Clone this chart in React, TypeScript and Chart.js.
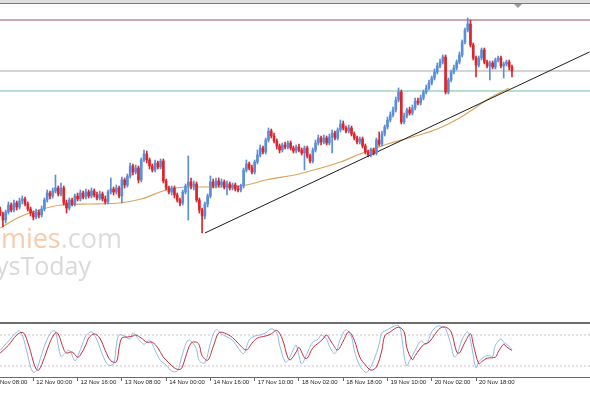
import { useEffect, useRef } from "react";
import { Chart, registerables } from "chart.js";

Chart.register(...registerables);

// ---- price data (USD/JPY, H1) ----
const opens = [
  117.30,117.26,117.20,117.28,117.35,117.30,117.37,117.33,117.39,117.41,
  117.36,117.31,117.27,117.23,117.28,117.25,117.31,117.40,117.47,117.44,
  117.49,117.52,117.46,117.52,117.37,117.32,117.40,117.36,117.44,117.41,
  117.47,117.43,117.48,117.44,117.49,117.45,117.42,117.46,117.41,117.38,
  117.48,117.51,117.48,117.52,117.44,117.60,117.55,117.64,117.74,117.68,
  117.72,117.60,117.80,117.86,117.80,117.74,117.70,117.77,117.73,117.79,
  117.59,117.52,117.48,117.52,117.45,117.40,117.37,117.48,117.54,117.58,
  117.54,117.56,117.40,117.30,117.24,117.36,117.44,117.58,117.54,117.59,
  117.55,117.58,117.53,117.56,117.52,117.55,117.51,117.50,117.54,117.70,
  117.76,117.72,117.68,117.78,117.85,117.92,117.88,118.00,118.09,118.04,
  117.99,117.94,117.90,117.95,117.93,117.97,117.92,117.89,117.93,117.90,
  117.87,117.92,117.84,117.79,117.90,117.97,118.02,117.98,118.02,117.97,
  118.03,118.07,118.02,118.10,118.16,118.12,118.09,118.12,118.06,118.02,
  117.98,118.01,117.94,117.88,117.85,117.90,117.87,118.00,117.96,118.06,
  118.13,118.20,118.25,118.30,118.40,118.48,118.18,118.24,118.30,118.27,
  118.32,118.39,118.37,118.42,118.48,118.52,118.57,118.62,118.68,118.74,
  118.78,118.83,118.48,118.60,118.68,118.72,118.78,118.85,118.98,119.10,
  119.16,118.95,118.82,118.75,118.82,118.90,118.78,118.74,118.77,118.73,
  118.80,118.82,118.74,118.76,118.78,118.73,
];
const highs = [
  117.33,117.28,117.30,117.38,117.37,117.40,117.39,117.42,117.44,117.43,
  117.38,117.33,117.29,117.31,117.30,117.34,117.42,117.50,117.49,117.52,
  117.65,117.54,117.57,117.54,117.40,117.42,117.42,117.46,117.47,117.50,
  117.49,117.51,117.50,117.52,117.51,117.48,117.49,117.48,117.44,117.50,
  117.62,117.53,117.55,117.54,117.63,117.62,117.66,117.77,117.76,117.75,
  117.74,117.82,117.90,117.89,117.82,117.76,117.80,117.79,117.81,117.81,
  117.61,117.54,117.54,117.54,117.47,117.42,117.50,117.56,117.84,117.62,
  117.59,117.58,117.42,117.32,117.38,117.46,117.64,117.61,117.62,117.62,
  117.61,117.60,117.59,117.58,117.57,117.57,117.54,117.56,117.72,117.80,
  117.78,117.75,117.80,117.90,117.95,117.94,118.02,118.12,118.11,118.07,
  118.01,117.96,117.97,117.98,117.99,117.99,117.94,117.95,117.96,117.92,
  117.94,117.94,117.86,117.92,118.00,118.05,118.04,118.05,118.04,118.06,
  118.10,118.09,118.12,118.20,118.19,118.14,118.15,118.14,118.08,118.04,
  118.03,118.03,117.96,117.90,117.92,117.92,118.02,118.08,118.09,118.15,
  118.23,118.28,118.33,118.43,118.52,118.50,118.27,118.32,118.33,118.35,
  118.42,118.42,118.45,118.50,118.55,118.60,118.64,118.71,118.77,118.81,
  118.85,118.85,118.62,118.70,118.75,118.80,118.88,119.00,119.12,119.22,
  119.20,118.97,118.84,118.84,118.92,118.92,118.80,118.79,118.79,118.82,
  118.84,118.84,118.78,118.80,118.80,118.75,
];
const lows = [
  117.24,117.13,117.17,117.26,117.28,117.28,117.30,117.31,117.36,117.34,
  117.29,117.24,117.20,117.21,117.22,117.23,117.29,117.38,117.41,117.42,
  117.47,117.44,117.44,117.35,117.27,117.30,117.34,117.34,117.39,117.39,
  117.41,117.41,117.42,117.42,117.43,117.40,117.40,117.39,117.36,117.36,
  117.46,117.45,117.46,117.42,117.37,117.52,117.53,117.62,117.65,117.66,
  117.57,117.58,117.78,117.77,117.71,117.68,117.68,117.71,117.71,117.57,
  117.50,117.46,117.45,117.42,117.38,117.34,117.35,117.46,117.20,117.51,
  117.50,117.38,117.27,117.07,117.21,117.33,117.42,117.52,117.52,117.53,
  117.53,117.51,117.45,117.50,117.50,117.49,117.48,117.48,117.52,117.68,
  117.70,117.66,117.66,117.76,117.83,117.86,117.86,117.98,118.02,117.97,
  117.91,117.87,117.88,117.91,117.91,117.90,117.87,117.87,117.88,117.85,
  117.70,117.82,117.77,117.77,117.88,117.95,117.95,117.96,117.95,117.95,
  117.87,118.00,118.00,118.08,118.10,118.07,118.07,118.04,118.00,117.96,
  117.96,117.92,117.86,117.83,117.83,117.85,117.85,117.94,117.94,118.04,
  118.11,118.18,118.23,118.28,118.38,118.16,118.16,118.22,118.25,118.25,
  118.30,118.35,118.35,118.40,118.46,118.50,118.55,118.60,118.66,118.72,
  118.76,118.46,118.46,118.58,118.66,118.70,118.76,118.83,118.96,119.08,
  118.93,118.80,118.63,118.73,118.80,118.76,118.72,118.60,118.71,118.71,
  118.78,118.72,118.62,118.74,118.70,118.63,
];
const closes = [
  117.26,117.20,117.28,117.35,117.30,117.37,117.33,117.39,117.41,117.36,
  117.31,117.27,117.23,117.28,117.25,117.31,117.40,117.47,117.44,117.49,
  117.52,117.46,117.52,117.37,117.32,117.40,117.36,117.44,117.41,117.47,
  117.43,117.48,117.44,117.49,117.45,117.42,117.46,117.41,117.38,117.48,
  117.51,117.48,117.52,117.44,117.60,117.55,117.64,117.74,117.68,117.72,
  117.60,117.80,117.86,117.80,117.74,117.70,117.77,117.73,117.79,117.59,
  117.52,117.48,117.52,117.45,117.40,117.37,117.48,117.54,117.58,117.54,
  117.56,117.40,117.30,117.24,117.36,117.44,117.58,117.54,117.59,117.55,
  117.58,117.53,117.56,117.52,117.55,117.51,117.50,117.54,117.70,117.76,
  117.72,117.68,117.78,117.85,117.92,117.88,118.00,118.09,118.04,117.99,
  117.94,117.90,117.95,117.93,117.97,117.92,117.89,117.93,117.90,117.87,
  117.92,117.84,117.79,117.90,117.97,118.02,117.98,118.02,117.97,118.03,
  118.07,118.02,118.10,118.16,118.12,118.09,118.12,118.06,118.02,117.98,
  118.01,117.94,117.88,117.85,117.90,117.87,118.00,117.96,118.06,118.13,
  118.20,118.25,118.30,118.40,118.48,118.18,118.24,118.30,118.27,118.32,
  118.39,118.37,118.42,118.48,118.52,118.57,118.62,118.68,118.74,118.78,
  118.83,118.48,118.60,118.68,118.72,118.78,118.85,118.98,119.10,119.16,
  118.95,118.82,118.75,118.82,118.90,118.78,118.74,118.77,118.73,118.80,
  118.82,118.74,118.76,118.78,118.73,118.69,
];

// moving average (read at selected bars)
const maBars = [0, 7, 14, 22, 32, 43, 51, 60, 68, 79, 89, 96, 108, 116, 123, 130, 140, 149, 158, 166, 170, 177, 184];
const maValues = [117.12, 117.23, 117.30, 117.35, 117.36, 117.37, 117.41, 117.50, 117.53, 117.53, 117.55, 117.60, 117.66, 117.72, 117.78, 117.86, 117.96, 118.03, 118.11, 118.22, 118.29, 118.42, 118.52];

// trend line and horizontal levels
const trendBars = [74, 213];
const trendValues = [117.07, 118.88];
const levelValues = [119.2, 118.69, 118.49];

// stochastic oscillator
const stochKBars = [0,3,6,7,8,9,10,11,12,13,15,17,19,20,21,22,23,25,27,28,30,31,33,35,37,39,41,42,43,45,47,48,50,52,54,56,58,60,62,64,65,66,68,70,71,72,74,76,78,80,82,84,86,88,90,92,94,96,98,100,101,103,104,106,107,108,109,111,113,115,116,118,119,121,123,125,127,128,130,132,133,135,137,138,140,142,144,145,146,147,148,150,152,154,156,158,160,161,163,164,165,167,169,170,171,172,173,175,177,178,179,181,182,184,185];
const stochK = [50,68,86,88,80,62,40,18,8,10,42,72,88,86,60,38,42,50,30,38,66,78,86,70,42,22,24,60,80,78,72,84,72,62,70,50,30,22,10,10,25,45,70,62,52,30,26,64,90,82,76,70,55,44,70,78,80,84,92,84,60,28,30,52,60,40,24,45,66,72,80,72,58,44,72,90,76,50,20,8,10,30,62,84,90,96,98,82,40,20,30,50,68,62,86,97,96,92,60,38,40,72,86,70,40,16,28,38,40,38,60,72,66,58,52];
const stochDBars = [0,3,6,8,9,10,11,12,13,14,16,18,20,21,23,24,26,28,29,31,32,34,36,38,40,42,43,44,46,48,49,51,53,55,57,59,61,63,65,66,67,69,71,72,73,75,77,79,81,84,86,89,91,93,96,98,100,102,104,105,107,108,110,111,113,115,117,118,120,122,124,126,128,130,132,134,136,138,139,141,144,146,147,149,150,153,155,157,159,161,163,165,166,168,170,171,173,174,176,179,180,182,183,185];
const stochD = [45,60,80,85,80,65,48,28,14,12,36,66,84,82,52,45,47,37,41,61,74,82,74,50,30,28,55,74,76,78,80,74,66,66,55,37,26,16,13,20,37,64,66,60,40,31,57,84,84,75,64,51,64,74,78,82,89,72,36,32,47,56,36,35,55,64,74,80,64,51,68,86,70,37,22,12,18,51,78,86,95,86,55,32,40,61,66,80,93,95,86,47,45,66,82,62,24,28,35,37,47,62,57,50];
const stochLevels = [80, 20];

// time axis
const tickBars = [-4, 12, 28, 44, 60, 76, 92, 108, 124, 140, 156, 172];
const tickLabels = [
  "11 Nov 08:00", "12 Nov 00:00", "12 Nov 16:00", "13 Nov 08:00", "14 Nov 00:00", "14 Nov 16:00",
  "17 Nov 10:00", "18 Nov 02:00", "18 Nov 18:00", "19 Nov 10:00", "20 Nov 02:00", "20 Nov 18:00",
];

const BULL = "#5b8ed8";
const BEAR = "#da262c";
const LEVEL_COLORS = ["#a04f5c", "#d4d4d4", "#9fd4bf"];
const LEVEL_WIDTHS = [1, 2, 1.5];
const X_MIN = -0.05;
const X_MAX = 213.2;
const Y_MIN = 116.18;
const Y_MAX = 119.4;

export default function App() {
  const mainRef = useRef<HTMLCanvasElement>(null);
  const subRef = useRef<HTMLCanvasElement>(null);

  useEffect(() => {
    document.body.style.margin = "0";
    const idx = closes.map((_, i) => i);
    const colors = idx.map((i) => (closes[i] >= opens[i] ? BULL : BEAR));

    const watermark = {
      id: "watermark",
      beforeDatasetsDraw(chart: any) {
        const ctx = chart.ctx;
        ctx.save();
        ctx.textBaseline = "alphabetic";
        ctx.font = '27px "Open Sans", sans-serif';
        const tail = ".com";
        const wTail = ctx.measureText(tail).width;
        const right = 122;
        ctx.textAlign = "left";
        ctx.fillStyle = "#dcdcdc";
        ctx.fillText(tail, right - wTail, 248);
        ctx.textAlign = "right";
        ctx.fillStyle = "#f7cbab";
        ctx.fillText("Economies", right - wTail, 248);
        ctx.font = '25px "Open Sans", sans-serif';
        ctx.fillStyle = "#d9d9d9";
        ctx.fillText("ysToday", 91, 275);
        ctx.restore();
      },
      afterDraw(chart: any) {
        const ctx = chart.ctx;
        ctx.save();
        ctx.fillStyle = "#dedede";
        ctx.fillRect(0, 0, chart.width, 3);
        ctx.fillStyle = "#7a7a7a";
        ctx.fillRect(0, 3, chart.width, 1);
        ctx.fillStyle = "#9a9a9a";
        ctx.beginPath();
        ctx.moveTo(514, 4);
        ctx.lineTo(522, 4);
        ctx.lineTo(518, 8);
        ctx.closePath();
        ctx.fill();
        ctx.restore();
      },
    };

    const levelSets = levelValues.map((v, k) => ({
      type: "line" as const,
      data: [{ x: X_MIN, y: v }, { x: X_MAX, y: v }],
      borderColor: LEVEL_COLORS[k],
      borderWidth: LEVEL_WIDTHS[k],
      pointRadius: 0,
      order: 5,
    }));

    const main = new Chart(mainRef.current as HTMLCanvasElement, {
      type: "bar",
      data: {
        datasets: [
          {
            type: "bar",
            data: idx.map((i) => ({ x: i, y: [opens[i], closes[i]] })) as any,
            backgroundColor: colors,
            barThickness: 2,
            grouped: false,
            minBarLength: 1,
            order: 0,
          },
          {
            type: "bar",
            data: idx.map((i) => ({ x: i, y: [lows[i], highs[i]] })) as any,
            backgroundColor: colors,
            barThickness: 1,
            grouped: false,
            order: 1,
          },
          {
            type: "line",
            data: maBars.map((b, k) => ({ x: b, y: maValues[k] })),
            borderColor: "#dba35c",
            borderWidth: 1.2,
            pointRadius: 0,
            cubicInterpolationMode: "monotone",
            order: 2,
          },
          {
            type: "line",
            data: trendBars.map((b, k) => ({ x: b, y: trendValues[k] })),
            borderColor: "#1c1c1c",
            borderWidth: 1,
            pointRadius: 0,
            order: 0,
          },
          ...levelSets,
        ] as any,
      },
      options: {
        animation: false,
        responsive: false,
        events: [],
        layout: { padding: 0 },
        plugins: { legend: { display: false }, tooltip: { enabled: false } },
        scales: {
          x: { type: "linear", display: false, min: X_MIN, max: X_MAX, offset: false },
          y: { type: "linear", display: false, min: Y_MIN, max: Y_MAX },
        },
      },
      plugins: [watermark],
    } as any);

    const separator = {
      id: "separator",
      afterDraw(chart: any) {
        const ctx = chart.ctx;
        ctx.save();
        ctx.fillStyle = "#6e6e6e";
        ctx.fillRect(0, 0, chart.width, 2);
        ctx.restore();
      },
    };

    const sub = new Chart(subRef.current as HTMLCanvasElement, {
      type: "line",
      data: {
        datasets: [
          ...stochLevels.map((v) => ({
            data: [{ x: X_MIN, y: v }, { x: X_MAX, y: v }],
            borderColor: "#cbc3c3",
            borderWidth: 1,
            borderDash: [2, 2],
            pointRadius: 0,
            order: 5,
          })),
          {
            data: stochKBars.map((b, k) => ({ x: b, y: stochK[k] })),
            borderColor: "#92b8e6",
            borderWidth: 1,
            pointRadius: 0,
            tension: 0.35,
            order: 2,
          },
          {
            data: stochDBars.map((b, k) => ({ x: b, y: stochD[k] })),
            borderColor: "#bf2f3d",
            borderWidth: 1,
            pointRadius: 0,
            tension: 0.35,
            order: 1,
          },
        ],
      },
      options: {
        animation: false,
        responsive: false,
        events: [],
        layout: { padding: { top: 2, left: 0, right: 0, bottom: 0 } },
        plugins: { legend: { display: false }, tooltip: { enabled: false } },
        scales: {
          x: {
            type: "linear",
            min: X_MIN,
            max: X_MAX,
            offset: false,
            afterBuildTicks: (s: any) => {
              s.ticks = tickBars.map((v) => ({ value: v }));
            },
            afterFit: (s: any) => {
              s.height = 16;
              s.paddingLeft = 0;
              s.paddingRight = 0;
            },
            ticks: {
              autoSkip: false,
              maxRotation: 0,
              minRotation: 0,
              align: "start",
              labelOffset: 3,
              padding: -2,
              color: "#222222",
              font: { family: '"Liberation Sans", Arial, sans-serif', size: 6 },
              callback: (_v: any, i: number) => tickLabels[i],
            },
            grid: { drawOnChartArea: false, drawTicks: true, tickLength: 4, color: "#6a6a6a" },
            border: { display: true, color: "#6a6a6a", width: 1 },
          },
          y: { type: "linear", display: false, min: -1.4, max: 101.2 },
        },
      },
      plugins: [separator],
    } as any);

    return () => {
      main.destroy();
      sub.destroy();
    };
  }, []);

  return (
    <div style={{ width: 590, height: 393, background: "#ffffff", overflow: "hidden" }}>
      <canvas ref={mainRef} width={590} height={322} style={{ display: "block" }} />
      <canvas ref={subRef} width={590} height={71} style={{ display: "block" }} />
    </div>
  );
}
